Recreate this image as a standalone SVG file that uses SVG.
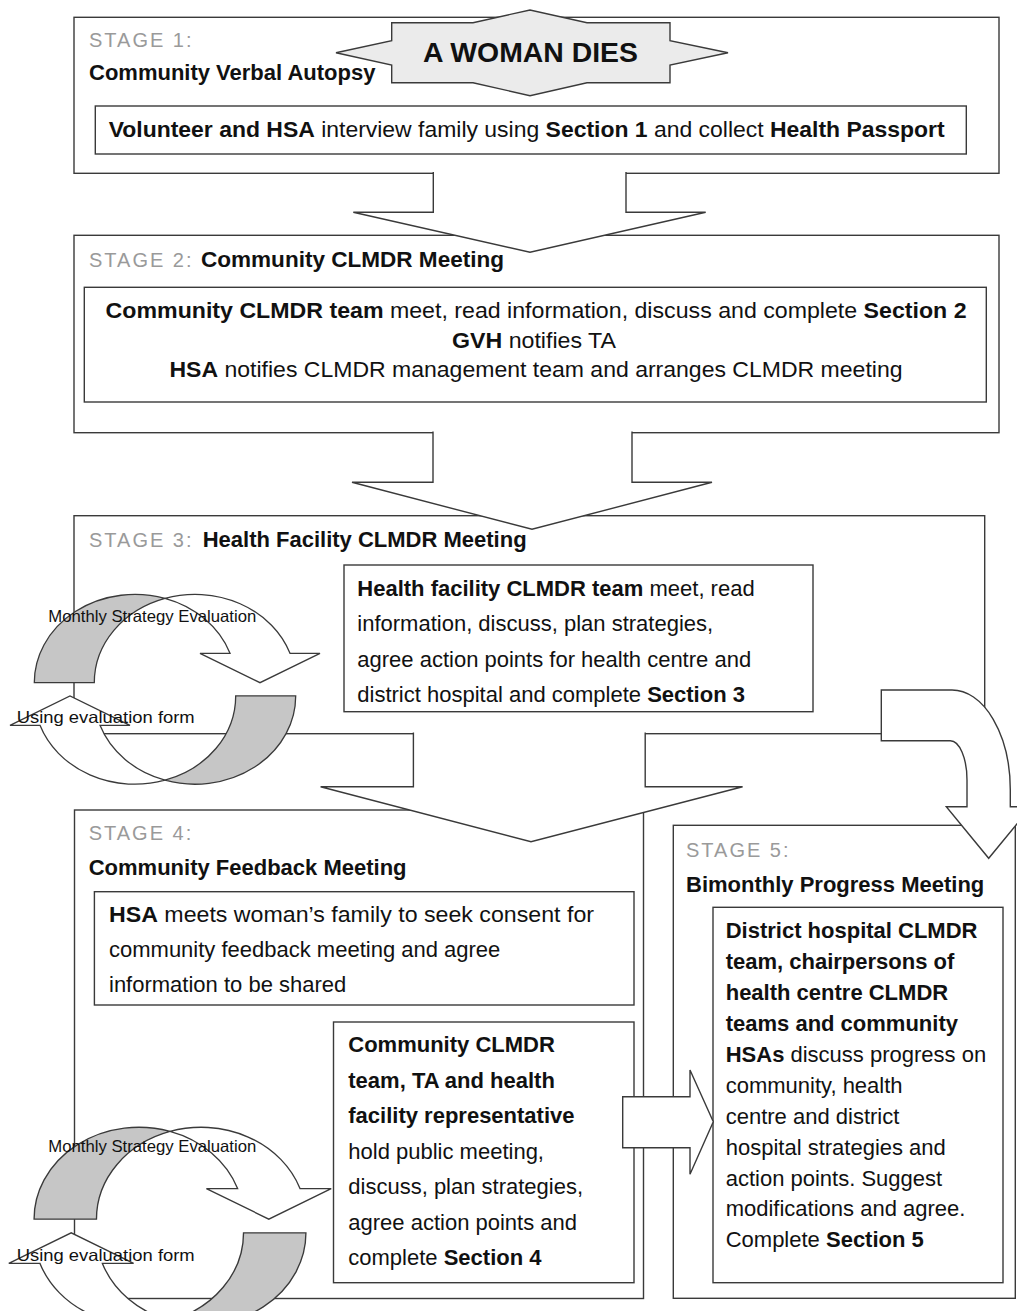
<svg xmlns="http://www.w3.org/2000/svg" xmlns:xlink="http://www.w3.org/1999/xlink" width="1017" height="1311" viewBox="0 0 1017 1311">
<style>
.box{fill:#fff;stroke:#3a3a3a;stroke-width:1.4}
.arr{fill:#fff;stroke:#3a3a3a;stroke-width:1.4;stroke-linejoin:miter}
.gray{fill:#c6c6c6;stroke:#3a3a3a;stroke-width:1.3}
.wh{fill:#fff;stroke:#3a3a3a;stroke-width:1.3}
.star{fill:#ebebeb;stroke:#3a3a3a;stroke-width:1.4}
text{font-family:"Liberation Sans",Arial,sans-serif;fill:#111}
.t{font-size:22px}
.t2{font-size:22.8px}
.b{font-weight:bold}
.st{font-size:20px;fill:#9a9a9a;letter-spacing:2px}
.h{font-size:22px;font-weight:bold}
.lbl{font-size:16.5px}
</style>
<defs>
<g id="cyc">
<path class="gray" d="M -130.7,-6.6 A 100.7 88.3 0 0 1 0,-90.9 A 100.7 88.3 0 0 0 -70.7,-6.6 Z"/>
<path class="wh" d="M 0,-90.9 A 100.7 88.3 0 0 1 65,-36 L 35,-36 L 95,-6.6 L 155,-36 L 125,-36 A 100.7 88.3 0 0 0 0,-90.9 Z"/>
</g>
</defs>
<rect width="1017" height="1311" fill="#fff"/>

<g id="stage1">
<rect class="box" x="74" y="17.3" width="925" height="156"/>
<text class="st" x="89" y="47">STAGE 1:</text>
<text class="h" x="89" y="80">Community Verbal Autopsy</text>
<rect class="box" x="95.3" y="106" width="871" height="48"/>
<text class="t2" x="108.7" y="137" textLength="836" lengthAdjust="spacingAndGlyphs"><tspan class="b">Volunteer and HSA</tspan> interview family using <tspan class="b">Section 1</tspan> and collect <tspan class="b">Health Passport</tspan></text>
</g>

<g id="start">
<polygon class="star" points="391.7,22.7 473,22.7 530,10 587,22.7 670,22.7 670,40.7 728,52.7 670,65 670,82.7 587,82.7 530,95.7 473,82.7 391.7,82.7 391.7,65 336,52.7 391.7,40.7"/>
<text x="530.5" y="62" text-anchor="middle" style="font-size:28px;font-weight:bold" textLength="215" lengthAdjust="spacingAndGlyphs">A WOMAN DIES</text>
</g>

<g id="stage2">
<rect class="box" x="74" y="235.3" width="925" height="197.4"/>
<text x="89" y="266.7"><tspan class="st">STAGE 2:</tspan></text>
<text class="h" x="201" y="266.7" textLength="303" lengthAdjust="spacingAndGlyphs">Community CLMDR Meeting</text>
<rect class="box" x="84.3" y="287.3" width="902" height="114.7"/>
<text class="t2" x="105.6" y="318.3" textLength="861" lengthAdjust="spacingAndGlyphs"><tspan class="b">Community CLMDR team</tspan> meet, read information, discuss and complete <tspan class="b">Section 2</tspan></text>
<text class="t2" x="452" y="347.8" textLength="164" lengthAdjust="spacingAndGlyphs"><tspan class="b">GVH</tspan> notifies TA</text>
<text class="t2" x="169.5" y="377.3" textLength="733" lengthAdjust="spacingAndGlyphs"><tspan class="b">HSA</tspan> notifies CLMDR management team and arranges CLMDR meeting</text>
</g>

<g id="stage3">
<rect class="box" x="74" y="515.7" width="910.7" height="218"/>
<text x="89" y="546.7"><tspan class="st">STAGE 3:</tspan></text>
<text class="h" x="202.7" y="546.7">Health Facility CLMDR Meeting</text>
<rect class="box" x="344" y="565" width="469" height="146.7"/>
<text class="t" x="357.3" y="596"><tspan class="b">Health facility CLMDR team</tspan> meet, read</text>
<text class="t" x="357.3" y="631">information, discuss, plan strategies,</text>
<text class="t" x="357.3" y="666.5">agree action points for health centre and</text>
<text class="t" x="357.3" y="701.7">district hospital and complete <tspan class="b">Section 3</tspan></text>
</g>

<g id="stage4">
<rect class="box" x="74.5" y="810" width="569" height="488.5"/>
<text class="st" x="88.7" y="840">STAGE 4:</text>
<text class="h" x="88.7" y="875">Community Feedback Meeting</text>
<rect class="box" x="94.4" y="891.7" width="539.6" height="113.3"/>
<text class="t" x="109" y="921.7" textLength="485" lengthAdjust="spacingAndGlyphs"><tspan class="b">HSA</tspan> meets woman’s family to seek consent for</text>
<text class="t" x="109" y="956.7">community feedback meeting and agree</text>
<text class="t" x="109" y="991.7">information to be shared</text>
<rect class="box" x="333.5" y="1022" width="300.5" height="260.7"/>
<text class="t b" x="348.3" y="1052">Community CLMDR</text>
<text class="t b" x="348.3" y="1087.5">team, TA and health</text>
<text class="t b" x="348.3" y="1123">facility representative</text>
<text class="t" x="348.3" y="1158.5">hold public meeting,</text>
<text class="t" x="348.3" y="1194">discuss, plan strategies,</text>
<text class="t" x="348.3" y="1229.5">agree action points and</text>
<text class="t" x="348.3" y="1265">complete <tspan class="b">Section 4</tspan></text>
</g>

<g id="stage5">
<rect class="box" x="673.3" y="825.3" width="342" height="473"/>
<text class="st" x="686" y="857.3">STAGE 5:</text>
<text class="h" x="686" y="891.7">Bimonthly Progress Meeting</text>
<rect class="box" x="713" y="907.3" width="290" height="375.4"/>
<text class="t b" x="725.7" y="938.3">District hospital CLMDR</text>
<text class="t b" x="725.7" y="969.2">team, chairpersons of</text>
<text class="t b" x="725.7" y="1000.1">health centre CLMDR</text>
<text class="t b" x="725.7" y="1031">teams and community</text>
<text class="t" x="725.7" y="1061.9"><tspan class="b">HSAs</tspan> discuss progress on</text>
<text class="t" x="725.7" y="1092.8">community, health</text>
<text class="t" x="725.7" y="1123.7">centre and district</text>
<text class="t" x="725.7" y="1154.6">hospital strategies and</text>
<text class="t" x="725.7" y="1185.5">action points. Suggest</text>
<text class="t" x="725.7" y="1216.4">modifications and agree.</text>
<text class="t" x="725.7" y="1247.3">Complete <tspan class="b">Section 5</tspan></text>
</g>

<g id="connectors">
<path class="arr" d="M 433.3,172 L 433.3,212.3 L 353.3,212.3 L 530,252.3 L 705.7,212.3 L 626,212.3 L 626,172"/>
<path class="arr" d="M 433,431.5 L 433,482.3 L 352,482.3 L 532,529.3 L 712,482.3 L 632,482.3 L 632,431.5"/>
<path class="arr" d="M 413.4,732.5 L 413.4,786.7 L 320.6,786.7 L 531,841.7 L 742.6,786.7 L 645.2,786.7 L 645.2,732.5"/>
<path class="arr" d="M 881.3,690 L 952,690 A 58.3 100 0 0 1 1010.3,790 L 1010.3,806.7 L 1031,806.7 L 988.7,858.3 L 946.3,806.7 L 967,806.7 L 967,780 A 16.7 39.3 0 0 0 950.3,740.7 L 881.3,740.7 Z"/>
<path class="arr" d="M 622.7,1096.7 L 690,1096.7 L 690,1070 L 713.3,1121.7 L 690,1174.3 L 690,1147.7 L 622.7,1147.7 Z"/>
</g>

<g id="cycle3">
<use href="#cyc" xlink:href="#cyc" transform="translate(165,689.3)"/>
<use href="#cyc" xlink:href="#cyc" transform="translate(165,689.3) rotate(180)"/>
<text class="lbl" x="48.3" y="621.7" textLength="208" lengthAdjust="spacingAndGlyphs">Monthly Strategy Evaluation</text>
<text class="lbl" x="16.7" y="722.7" textLength="178" lengthAdjust="spacingAndGlyphs">Using evaluation form</text>
</g>

<g id="cycle4">
<use href="#cyc" xlink:href="#cyc" transform="translate(170,1226) scale(1.04)"/>
<use href="#cyc" xlink:href="#cyc" transform="translate(170,1226) rotate(180) scale(1.04)"/>
<text class="lbl" x="48.3" y="1151.7" textLength="208" lengthAdjust="spacingAndGlyphs">Monthly Strategy Evaluation</text>
<text class="lbl" x="16.7" y="1260.7" textLength="178" lengthAdjust="spacingAndGlyphs">Using evaluation form</text>
</g>
</svg>
